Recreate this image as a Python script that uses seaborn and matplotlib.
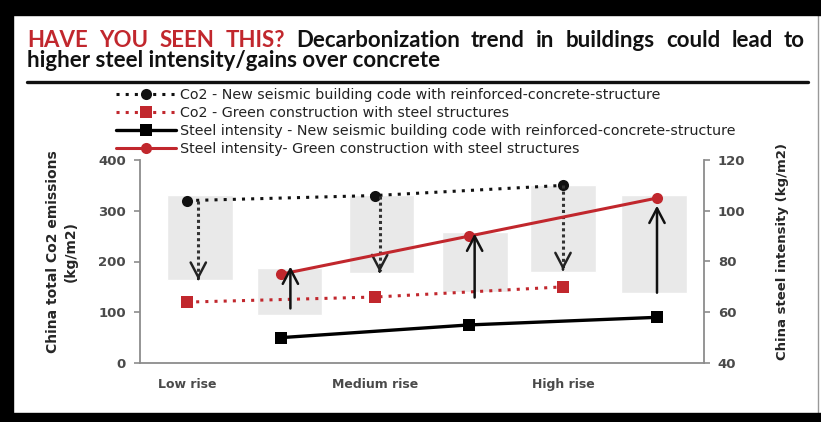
import matplotlib
matplotlib.use('Agg')
import matplotlib.pyplot as plt
import seaborn as sns
from matplotlib.patches import Rectangle
from matplotlib.lines import Line2D

# categories (every other slot is a blank slot for the steel points)
categories = ['Low rise', 'Medium rise', 'High rise']
co2_x = [0, 2, 4]
steel_x = [1, 3, 5]

# Co2 emissions (kg/m2) - left axis
co2_seismic = [320, 330, 350]
co2_green = [120, 130, 150]

# steel intensity (kg/m2) - right axis
steel_seismic = [50, 55, 58]
steel_green = [75, 90, 105]

# grey boxes behind the points (left axis units)
box_x = [0.14, 1.09, 2.07, 3.06, 4.0, 4.97]
box_bottom = [163, 95, 177, 140, 179, 138]
box_top = [331, 187, 331, 258, 351, 331]

# arrows
down_x = [0.12, 2.05, 4.0]
down_end = [164, 179, 183]
up_x = [1.1, 3.06, 5.0]
up_start = [61.5, 65.8, 67.7]
up_end = [78, 91, 102]

RED = '#c1272d'
GREY = '#8c8c8c'
W, H = 821, 422
title_font = 'Lato'

sns.set_style('white')
plt.rcParams['font.family'] = ['DejaVu Sans']

fig = plt.figure(figsize=(W / 100, H / 100), dpi=100)
ax = fig.add_axes([140 / W, 59 / H, 564 / W, 203 / H])
ax2 = ax.twinx()

# boxes
ax.bar(box_x, [t - b for t, b in zip(box_top, box_bottom)], bottom=box_bottom,
       width=0.7, color='#e9e9e9', zorder=0)

# Co2 lines (left axis)
sns.lineplot(x=co2_x, y=co2_seismic, ax=ax, color='#111111', linestyle=(0, (1, 2)),
             linewidth=2.2, marker='o', markersize=8, markeredgewidth=0,
             label='Co2 - New seismic building code with reinforced-concrete-structure', legend=False)
sns.lineplot(x=co2_x, y=co2_green, ax=ax, color=RED, linestyle=(0, (1, 2)),
             linewidth=2.2, marker='s', markersize=8, markeredgewidth=0,
             label='Co2 - Green construction with steel structures', legend=False)

# dotted down arrows
for x, y0, y1 in zip(down_x, co2_seismic, down_end):
    ax.plot([x, x], [y0, y1 + 3], color='#333333', linestyle=(0, (1, 1)), linewidth=2.2, zorder=3)
    ax.annotate('', xy=(x, y1), xytext=(x, y1 + 2),
                arrowprops=dict(arrowstyle='->,head_length=1.05,head_width=0.55',
                                color='#222222', lw=1.8, shrinkA=0, shrinkB=0))

# steel lines (right axis)
sns.lineplot(x=steel_x, y=steel_seismic, ax=ax2, color='#000000', linewidth=2.4,
             marker='s', markersize=9, markeredgewidth=0,
             label='Steel intensity - New seismic building code with reinforced-concrete-structure', legend=False)
sns.lineplot(x=steel_x, y=steel_green, ax=ax2, color=RED, linewidth=2.2,
             marker='o', markersize=8, markeredgewidth=0,
             label='Steel intensity- Green construction with steel structures', legend=False)

for x, y0, y1 in zip(up_x, up_start, up_end):
    ax2.annotate('', xy=(x, y1), xytext=(x, y0),
                 arrowprops=dict(arrowstyle='->,head_length=1.05,head_width=0.55',
                                 color='#111111', lw=1.8, shrinkA=0, shrinkB=0))

# axes styling
ax.set_xlim(-0.5, 5.5)
ax.set_ylim(0, 400)
ax2.set_ylim(40, 120)
ax.set_yticks([0, 100, 200, 300, 400])
ax2.set_yticks([40, 60, 80, 100, 120])
ax.set_xticks([x + 0.5 for x in range(-1, 6)])
ax.set_xticklabels([])
ax.set_xticks(co2_x, categories, minor=True)
ax.tick_params(axis='x', which='minor', length=0, pad=11)
ax.tick_params(axis='x', which='major', length=3, color=GREY, width=1.2)
ax.tick_params(axis='y', length=4, color=GREY, width=1.2, pad=6)
ax2.tick_params(axis='y', length=4, color=GREY, width=1.2, pad=6)
for a in (ax, ax2):
    for lab in a.get_xticklabels(minor=True):
        lab.set_fontsize(9)
        lab.set_fontweight('bold')
        lab.set_color('#4a4a4a')
    for lab in a.get_yticklabels():
        lab.set_fontsize(9.5)
        lab.set_fontweight('bold')
        lab.set_color('#4a4a4a')
    for s in a.spines.values():
        s.set_color(GREY)
        s.set_linewidth(1.3)
    a.spines['top'].set_visible(False)
ax.spines['right'].set_visible(False)
ax2.spines['left'].set_visible(False)
ax2.spines['bottom'].set_visible(False)

fig.text(62 / W, 1 - 252 / H, 'China total Co2 emissions\n(kg/m2)', rotation=90,
         ha='center', va='center', multialignment='center', fontsize=10,
         fontweight='bold', linespacing=1.4)
fig.text(782 / W, 1 - 252 / H, 'China steel intensity (kg/m2)', rotation=90,
         ha='center', va='center', fontsize=9.5, fontweight='bold')

# legend
handles, labels = ax.get_legend_handles_labels()
h2, l2 = ax2.get_legend_handles_labels()
fig.legend(handles + h2, labels + l2, loc='upper left', bbox_to_anchor=(116 / W, 1 - 88 / H),
           frameon=False, fontsize=10.3, handlelength=4.2, handletextpad=0.3,
           labelspacing=0.28, borderpad=0, borderaxespad=0, labelcolor='#222222')

# title, justified on the first line
renderer = fig.canvas.get_renderer()
line1 = [(w, RED) for w in 'HAVE YOU SEEN THIS?'.split()] + \
        [(w, '#111111') for w in 'Decarbonization trend in buildings could lead to'.split()]
texts = [fig.text(0, 1 - 47 / H, w, color=c, fontsize=16, fontweight='bold',
                  family=title_font, va='baseline') for w, c in line1]
widths = [t.get_window_extent(renderer).width for t in texts]
gap = (805 - 27 - sum(widths)) / (len(texts) - 1)
xpos = 27
for t, wd in zip(texts, widths):
    t.set_x(xpos / W)
    xpos += wd + gap
fig.text(27 / W, 1 - 67 / H, 'higher steel intensity/gains over concrete', color='#111111',
         fontsize=16, fontweight='bold', family=title_font, va='baseline')
fig.add_artist(Line2D([27 / W, 808 / W], [1 - 82 / H, 1 - 82 / H], color='#111111', linewidth=2.4))

# black frame
for x0, y0, w, h in [(0, 0, 821, 15), (0, 0, 13, 422), (0, 413, 821, 9)]:
    fig.patches.append(Rectangle((x0 / W, 1 - (y0 + h) / H), w / W, h / H,
                                 transform=fig.transFigure, color='black', zorder=10))
fig.add_artist(Line2D([818 / W, 818 / W], [9 / H, 1 - 15 / H], color='#999999', linewidth=1))

fig.savefig('out.png', dpi=100)
